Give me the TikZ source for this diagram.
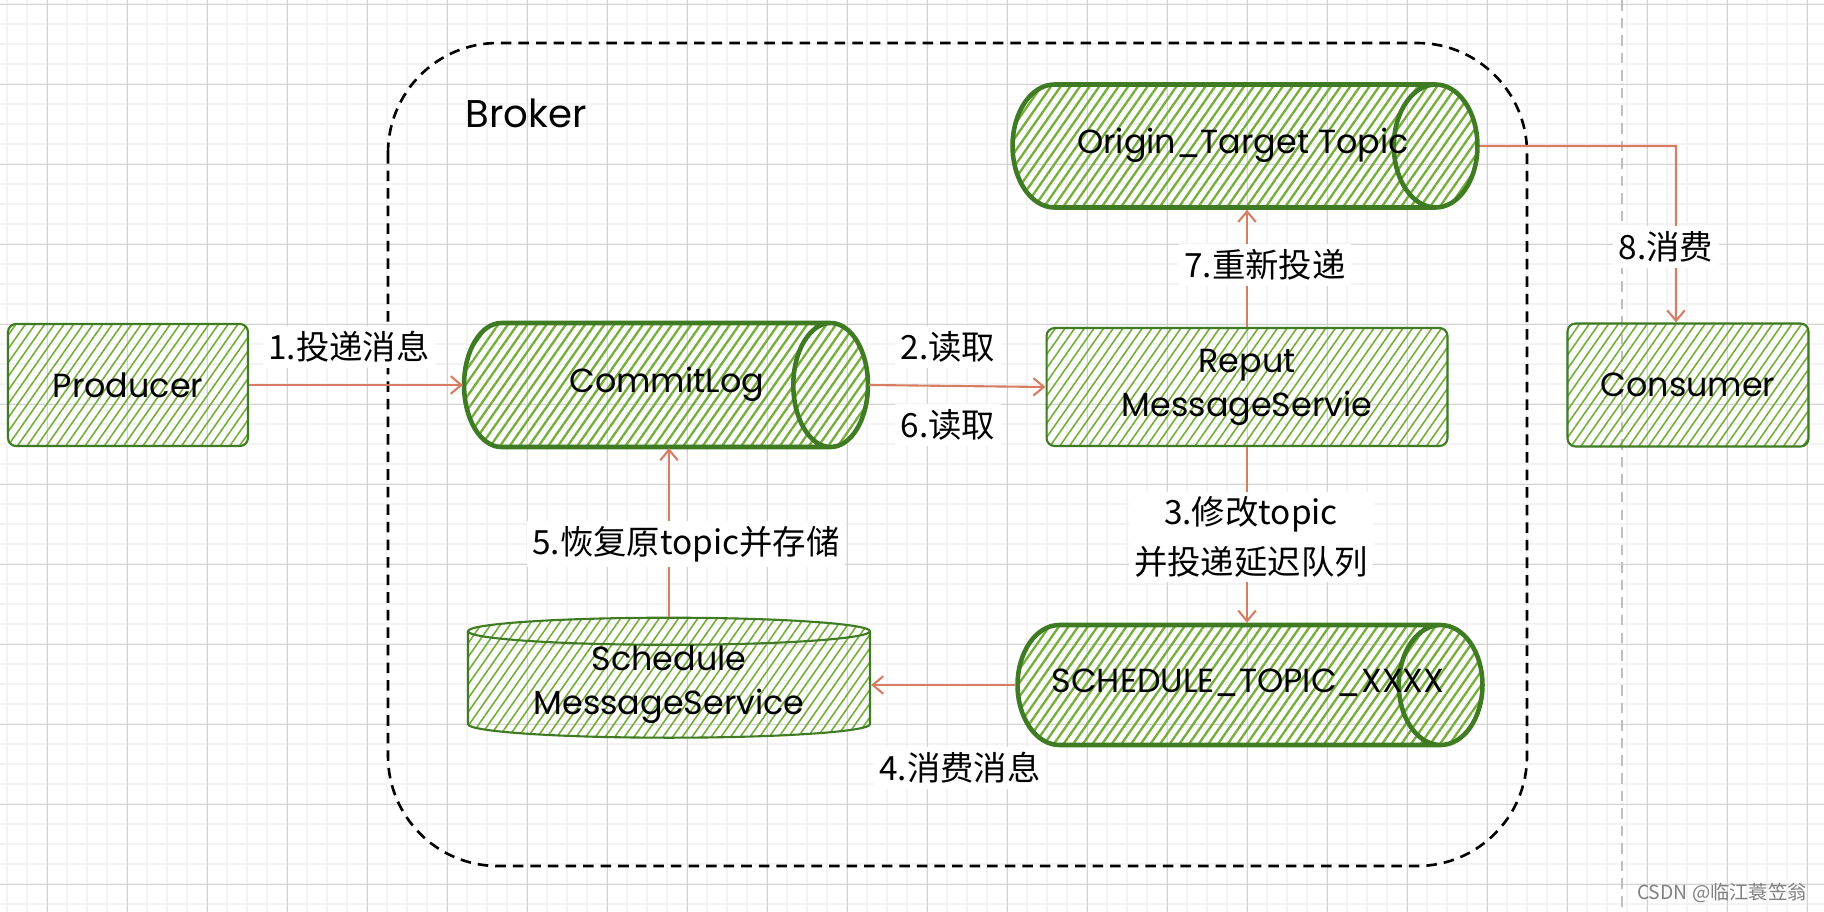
\documentclass[tikz,border=0pt]{standalone}
\usepackage{fontspec}
\setmainfont{Poppins}
\newfontfamily\cjk{Noto Sans CJK SC}
\usetikzlibrary{shapes.geometric,arrows.meta,patterns.meta}

\definecolor{leafline}{HTML}{3E7B22}
\definecolor{leafhatch}{HTML}{74AD38}
\definecolor{flowred}{HTML}{D77D64}
\definecolor{gridmajor}{HTML}{D2D2D2}
\definecolor{gridminor}{HTML}{F3F3F3}

% text of a lying tube, centred on the whole tube
\newcommand\tubetext[1]{\makebox[0pt]{\hspace*{0.8cm}#1}}

\tikzset{
  box/.style={rectangle, rounded corners=0.16cm, draw=leafline, line width=1.2pt,
    pattern={Lines[angle=55,distance=4.5pt,line width=0.9pt]}, pattern color=leafhatch,
    inner sep=0pt, align=center, font=\fontsize{19}{25}\selectfont},
  store/.style={cylinder, shape border rotate=0, draw=leafline, line width=2.6pt,
    pattern={Lines[angle=55,distance=4.5pt,line width=1.3pt]}, pattern color=leafhatch,
    inner sep=0pt, align=center, font=\fontsize{19}{25}\selectfont},
  tube/.style={store, anchor=shape center, text height=13pt, text depth=4pt},
  flow/.style={draw=flowred, line width=1.2pt, -{Straight Barb[length=6pt,width=10pt]}},
  tag/.style={fill=white, inner sep=3pt, align=center, font=\cjk\fontsize{19}{28}\selectfont},
}

\begin{document}
\begin{tikzpicture}[x=0.02cm, y=-0.02cm]
  \useasboundingbox (0,0) rectangle (1824,912);
  \fill[white] (0,0) rectangle (1824,912);
  % grid
  \foreach \gx in {7,27,...,1824} \draw[gridminor, line width=1.1pt] (\gx,0) -- (\gx,912);
  \foreach \gy in {4,24,...,912} \draw[gridminor, line width=1.1pt] (0,\gy) -- (1824,\gy);
  \foreach \gx in {47,127,...,1824} \draw[gridmajor, line width=0.5pt] (\gx,0) -- (\gx,912);
  \foreach \gy in {4,84,...,912} \draw[gridmajor, line width=0.5pt] (0,\gy) -- (1824,\gy);
  \draw[gray!50, line width=1.3pt, dash pattern=on 6pt off 4pt] (1622,0) -- (1622,912);

  % broker
  \draw[line width=1.5pt, dash pattern=on 6pt off 4pt, rounded corners=2.2cm] (388,43) rectangle (1527,866);
  \node (broker) at (526,113) {\fontsize{22}{26}\selectfont Broker};

  % parts
  \node[box, minimum width=4.8cm, minimum height=2.44cm] (producer) at (128,385) {Producer};
  \node[tube, aspect=2.5, minimum height=8.08cm, minimum width=2.48cm] (commitlog) at (666,385) {\tubetext{CommitLog}};
  \node[box, minimum width=8.02cm, minimum height=2.36cm] (reput) at (1247,387) {Reput\\MessageServie};
  \node[tube, aspect=2.8, minimum height=9.3cm, minimum width=2.46cm] (origin) at (1245,146) {\tubetext{Origin\_Target Topic}};
  \node[box, minimum width=4.82cm, minimum height=2.46cm] (consumer) at (1688,385) {Consumer};
  \node[tube, aspect=2.8, minimum height=9.3cm, minimum width=2.4cm] (schedtopic) at (1250,685) {\tubetext{SCHEDULE\_TOPIC\_XXXX}};
  \node[store, shape border rotate=90, aspect=0.1, line width=1.2pt,
    pattern={Lines[angle=55,distance=4.5pt,line width=0.9pt]},
    minimum width=8.04cm, minimum height=2.4cm] (schedsvc) at (669,685) {Schedule\\MessageService};

  % flows
  \coordinate (bend) at (1676,146);
  \draw[flow] (producer.east) -- (commitlog.west);
  \draw[flow] (commitlog.east) -- (reput.west);
  \draw[flow] (reput.south) -- (reput.south |- schedtopic.north);
  \draw[flow] (schedtopic.west) -- (schedtopic.west -| schedsvc.east);
  \draw[flow] (schedsvc.north) -- (schedsvc.north |- commitlog.south);
  \draw[flow] (reput.north) -- (reput.north |- origin.south);
  \draw[flow] (origin.east) -- (bend) -- (bend |- consumer.north);

  % labels
  \node[tag] (tag1) at (349,347) {1.投递消息};
  \node[tag] (tag2) at (948,347) {2.读取};
  \node[tag] (tag3) at (1251,537) {3.修改topic\\并投递延迟队列};
  \node[tag] (tag4) at (960,768) {4.消费消息};
  \node[tag] (tag5) at (686,544) {5.恢复原topic并存储};
  \node[tag] (tag6) at (948,425) {6.读取};
  \node[tag] (tag7) at (1265,265) {7.重新投递};
  \node[tag] (tag8) at (1666,247) {8.消费};

  \node[gray, font=\cjk\fontsize{11}{13}\selectfont] (mark) at (1722,893) {CSDN @临江蓑笠翁};
\end{tikzpicture}
\end{document}
